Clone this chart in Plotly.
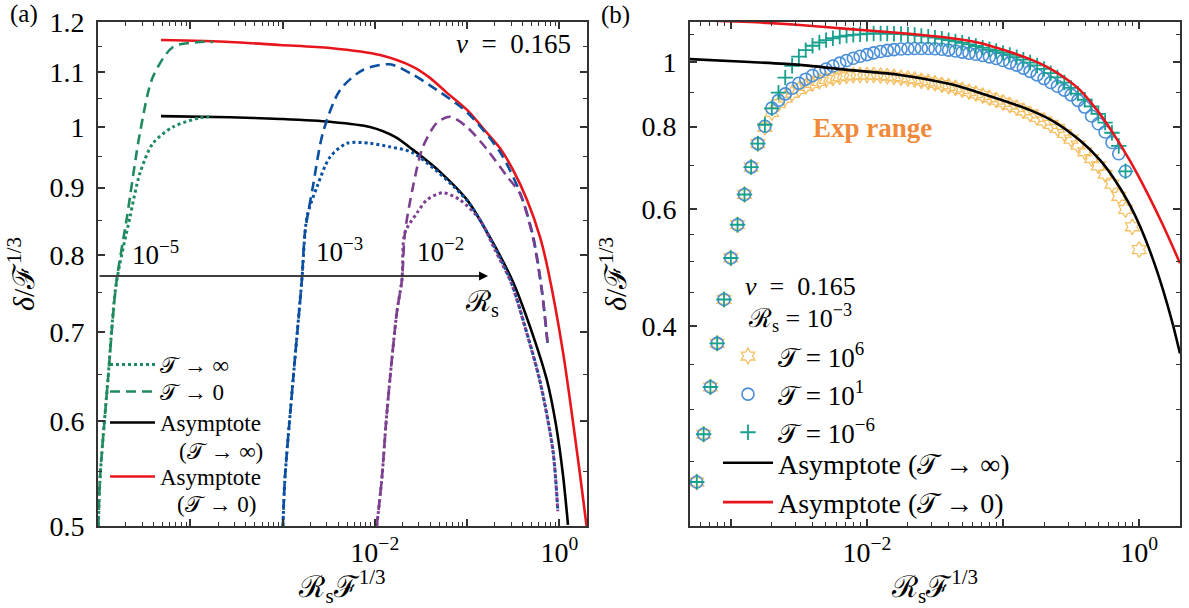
import math
import plotly.graph_objects as go

FONT = "Liberation Serif, DejaVu Serif, serif"
T = "\U0001D4AF"   # script T
RS = "\u211B"      # script R
FS = "\u2131"      # script F
NB = "\u00a0"

# ---------------- Panel (a) data ----------------
green_dot_x = [1.01e-5, 1.05e-5, 1.28e-5, 1.57e-5, 2.22e-5, 2.85e-5, 3.94e-5, 6.50e-5, 1.27e-4, 1.76e-4]
green_dot_y = [0.500, 0.542, 0.644, 0.760, 0.855, 0.923, 0.972, 1.000, 1.016, 1.018]
green_dash_x = [1.01e-5, 1.05e-5, 1.28e-5, 1.57e-5, 2.06e-5, 2.85e-5, 3.94e-5, 6.50e-5, 1.27e-4, 1.76e-4]
green_dash_y = [0.500, 0.542, 0.644, 0.760, 0.855, 0.990, 1.091, 1.149, 1.159, 1.159]

blue_dot_x = [1.01e-3, 1.06e-3, 1.30e-3, 1.62e-3, 1.84e-3, 2.36e-3, 3.27e-3, 4.99e-3, 8.85e-3,
              1.46e-2, 2.59e-2, 0.100, 0.178, 0.300, 0.425, 0.615, 0.851, 0.963]
blue_dot_y = [0.500, 0.542, 0.644, 0.767, 0.855, 0.901, 0.949, 0.972, 0.972,
              0.966, 0.956, 0.880, 0.824, 0.764, 0.707, 0.644, 0.571, 0.514]
blue_dash_x = [1.01e-3, 1.06e-3, 1.30e-3, 1.62e-3, 1.75e-3, 2.13e-3, 2.74e-3, 4.19e-3, 7.43e-3,
               1.46e-2, 2.59e-2, 3.95e-2, 9.95e-2, 0.226, 0.373, 0.516, 0.646, 0.750]
blue_dash_y = [0.500, 0.542, 0.644, 0.767, 0.832, 0.901, 0.990, 1.066, 1.104,
               1.115, 1.095, 1.075, 1.026, 0.958, 0.893, 0.829, 0.754, 0.685]

purple_dot_x = [1.05e-2, 1.19e-2, 1.35e-2, 1.73e-2, 1.97e-2, 2.12e-2, 2.86e-2, 3.67e-2, 5.47e-2,
                8.36e-2, 0.138, 0.200, 0.300, 0.425, 0.615, 0.851, 0.963]
purple_dot_y = [0.500, 0.542, 0.608, 0.724, 0.767, 0.832, 0.861, 0.881, 0.892,
                0.881, 0.851, 0.808, 0.763, 0.706, 0.643, 0.570, 0.513]
purple_dash_x = [1.05e-2, 1.19e-2, 1.35e-2, 1.73e-2, 1.97e-2, 2.12e-2, 2.59e-2, 3.32e-2, 4.71e-2,
                 6.51e-2, 9.95e-2, 0.164, 0.270, 0.373, 0.516, 0.646, 0.750]
purple_dash_y = [0.500, 0.542, 0.608, 0.724, 0.767, 0.832, 0.901, 0.966, 1.007,
                 1.018, 1.000, 0.962, 0.918, 0.891, 0.826, 0.752, 0.683]

black_a_x = [4.82e-5, 2.70e-4, 9.40e-4, 3.27e-3, 8.87e-3, 1.66e-2, 2.60e-2, 5.09e-2, 0.100,
             0.178, 0.315, 0.481, 0.734, 0.920, 1.097, 1.242]
black_a_y = [1.019, 1.017, 1.014, 1.009, 1.000, 0.983, 0.961, 0.925, 0.881,
             0.825, 0.764, 0.707, 0.644, 0.596, 0.546, 0.501]
red_a_x = [4.82e-5, 2.70e-4, 9.40e-4, 3.27e-3, 1.14e-2, 2.60e-2, 3.96e-2, 6.06e-2, 0.100,
           0.164, 0.227, 0.315, 0.447, 0.618, 0.754, 1.097, 1.675, 1.995]
red_a_y = [1.163, 1.159, 1.153, 1.147, 1.133, 1.110, 1.089, 1.061, 1.030,
           0.990, 0.964, 0.928, 0.881, 0.826, 0.780, 0.676, 0.547, 0.497]

# ---------------- Panel (b) data ----------------
x_b = [5.62e-4, 6.31e-4, 7.08e-4, 7.94e-4, 8.91e-4, 1.00e-3, 1.12e-3, 1.26e-3, 1.41e-3, 1.58e-3,
       1.78e-3, 2.00e-3, 2.24e-3, 2.51e-3, 2.82e-3, 3.16e-3, 3.55e-3, 3.98e-3, 4.47e-3, 5.01e-3,
       5.62e-3, 6.31e-3, 7.08e-3, 7.94e-3, 8.91e-3, 1.00e-2, 1.12e-2, 1.26e-2, 1.41e-2, 1.58e-2,
       1.78e-2, 2.00e-2, 2.24e-2, 2.51e-2, 2.82e-2, 3.16e-2, 3.55e-2, 3.98e-2, 4.47e-2, 5.01e-2,
       5.62e-2, 6.31e-2, 7.08e-2, 7.94e-2, 8.91e-2, 0.100, 0.112, 0.126, 0.141, 0.158,
       0.178, 0.200, 0.224, 0.251, 0.282, 0.316, 0.355, 0.398, 0.447, 0.501,
       0.562, 0.631, 0.708, 0.794, 0.891, 1.000]

y_star = [0.233, 0.275, 0.324, 0.377, 0.439, 0.507, 0.569, 0.632, 0.695, 0.754,
          0.798, 0.840, 0.866, 0.883, 0.898, 0.910, 0.920, 0.929, 0.936, 0.942,
          0.947, 0.951, 0.954, 0.956, 0.957, 0.957, 0.957, 0.955, 0.953, 0.951,
          0.948, 0.945, 0.942, 0.938, 0.934, 0.930, 0.925, 0.920, 0.915, 0.909,
          0.903, 0.897, 0.891, 0.884, 0.877, 0.870, 0.862, 0.854, 0.845, 0.836,
          0.826, 0.816, 0.806, 0.795, 0.781, 0.766, 0.750, 0.733, 0.716, 0.698,
          0.678, 0.655, 0.628, 0.600, 0.565, 0.522]
y_circle = [0.233, 0.275, 0.324, 0.377, 0.439, 0.507, 0.569, 0.632, 0.695, 0.754,
            0.801, 0.853, 0.876, 0.896, 0.914, 0.930, 0.943, 0.955, 0.966, 0.977,
            0.987, 0.997, 1.006, 1.014, 1.021, 1.027, 1.033, 1.038, 1.042, 1.045,
            1.047, 1.048, 1.049, 1.049, 1.049, 1.048, 1.046, 1.043, 1.040, 1.036,
            1.032, 1.028, 1.024, 1.019, 1.013, 1.006, 0.998, 0.990, 0.980, 0.969,
            0.957, 0.945, 0.932, 0.920, 0.908, 0.893, 0.876, 0.856, 0.830, 0.808,
            0.785, 0.757, 0.728, 0.685]
y_plus = [0.233, 0.275, 0.324, 0.377, 0.439, 0.507, 0.569, 0.632, 0.695, 0.754,
          0.805, 0.852, 0.900, 0.948, 0.988, 1.020, 1.043, 1.059, 1.071, 1.080,
          1.087, 1.093, 1.097, 1.100, 1.102, 1.104, 1.105, 1.105, 1.105, 1.104,
          1.103, 1.101, 1.099, 1.096, 1.093, 1.089, 1.085, 1.080, 1.075, 1.070,
          1.064, 1.058, 1.052, 1.046, 1.040, 1.033, 1.026, 1.018, 1.009, 0.999,
          0.989, 0.977, 0.963, 0.949, 0.932, 0.915, 0.897, 0.878, 0.858, 0.836,
          0.811, 0.783, 0.748, 0.685]

black_b_x = [5.01e-4, 1.38e-3, 3.22e-3, 7.51e-3, 1.75e-2, 4.07e-2, 6.77e-2, 0.158, 0.241, 0.368,
             0.516, 0.643, 0.830, 1.014, 1.244, 1.497, 1.743, 1.995]
black_b_y = [1.011, 1.001, 0.991, 0.973, 0.957, 0.927, 0.899, 0.847, 0.812, 0.762,
             0.712, 0.671, 0.616, 0.566, 0.509, 0.454, 0.407, 0.364]
red_b_x = [5.01e-4, 1.38e-3, 3.22e-3, 7.51e-3, 1.75e-2, 4.07e-2, 6.77e-2, 0.1125, 0.158, 0.210,
           0.285, 0.368, 0.490, 0.643, 0.857, 1.143, 1.497, 1.995]
red_b_y = [1.158, 1.150, 1.138, 1.122, 1.107, 1.088, 1.069, 1.036, 1.011, 0.984,
           0.947, 0.908, 0.847, 0.782, 0.710, 0.636, 0.568, 0.498]

exp_range_end = 0.07

# ---------------- styles ----------------
GREEN = "#1f8a5f"
BLUE = "#0b4fa0"
PURPLE = "#7d3f8f"
RED = "#e8161c"
STAR_C = "#f5c064"
CIRC_C = "#4a8fd8"
PLUS_C = "#16a08e"
DASH = "10px,6px"

fig = go.Figure()

def line(x, y, color, dash, width, xa, ya, name=None, legend=None, show=False):
    fig.add_trace(go.Scatter(
        x=x, y=y, mode="lines", line=dict(color=color, dash=dash, width=width, shape="spline", smoothing=0.8),
        xaxis=xa, yaxis=ya, name=name or "", showlegend=show, legend=legend, hoverinfo="skip"))

# Panel (a)
line(black_a_x, black_a_y, "black", "solid", 2.6, "x", "y", "Asymptote", "legend3", True)
line(red_a_x, red_a_y, RED, "solid", 2.6, "x", "y", "Asymptote", "legend4", True)
line(green_dot_x, green_dot_y, GREEN, "dot", 3, "x", "y", T + " \u2192 \u221e", "legend", True)
line(green_dash_x, green_dash_y, GREEN, DASH, 2.6, "x", "y", T + " \u2192 0", "legend6", True)
line(blue_dot_x, blue_dot_y, BLUE, "dot", 3, "x", "y")
line(blue_dash_x, blue_dash_y, BLUE, DASH, 2.6, "x", "y")
line(purple_dot_x, purple_dot_y, PURPLE, "dot", 3, "x", "y")
line(purple_dash_x, purple_dash_y, PURPLE, DASH, 2.6, "x", "y")

# Panel (b)
fig.add_trace(go.Scatter(x=x_b[:len(y_star)], y=y_star, mode="markers", xaxis="x2", yaxis="y2",
                         marker=dict(symbol="hexagram-open", size=12, color=STAR_C, line=dict(width=1.3, color=STAR_C)),
                         name=T + " = 10<sup>6</sup>", legend="legend2", hoverinfo="skip"))
fig.add_trace(go.Scatter(x=x_b[:len(y_circle)], y=y_circle, mode="markers", xaxis="x2", yaxis="y2",
                         marker=dict(symbol="circle-open", size=12, color=CIRC_C, line=dict(width=1.6, color=CIRC_C)),
                         name=T + " = 10<sup>1</sup>", legend="legend2", hoverinfo="skip"))
fig.add_trace(go.Scatter(x=x_b[:len(y_plus)], y=y_plus, mode="markers", xaxis="x2", yaxis="y2",
                         marker=dict(symbol="cross-thin-open", size=11, color=PLUS_C, line=dict(width=1.8, color=PLUS_C)),
                         name=T + " = 10<sup>\u22126</sup>", legend="legend2", hoverinfo="skip"))
line(black_b_x, black_b_y, "black", "solid", 2.6, "x2", "y2", "Asymptote (" + T + " \u2192 \u221e)", "legend5", True)
line(red_b_x, red_b_y, RED, "solid", 2.6, "x2", "y2", "Asymptote (" + T + " \u2192 0)", "legend5", True)

# ---------------- axes ----------------
W, H = 1189, 608
ax_common = dict(showline=True, linewidth=2, linecolor="#333", mirror="ticks", ticks="inside",
                 ticklen=7, tickwidth=1.5, tickcolor="#333", showgrid=False, zeroline=False,
                 automargin=False, tickfont=dict(family=FONT, size=28, color="black"))
minor_x = dict(tickmode="array", ticks="inside", ticklen=4, tickwidth=1.3, tickcolor="#333", showgrid=False,
               tickvals=[m * 10.0 ** e for e in range(-5, 1) for m in range(2, 10)])
title_font = dict(family=FONT, size=30, color="black")
xtitle = RS + "<sub>s</sub>" + FS + "<sup>1/3</sup>"
ytitle = "<i>\u03b4</i>/" + FS + "<sup>1/3</sup>"

def leg(x_px, top_px, size, itemwidth):
    return dict(x=x_px / W, y=1 - top_px / H, xanchor="left", yanchor="top", bgcolor="rgba(0,0,0,0)",
                font=dict(family=FONT, size=size, color="black"), itemwidth=itemwidth, tracegroupgap=0)

fig.update_layout(
    width=W, height=H, margin=dict(l=0, r=0, t=0, b=0, autoexpand=False),
    paper_bgcolor="white", plot_bgcolor="white",
    font=dict(family=FONT, color="black"),
    xaxis=dict(ax_common, type="log", range=[-5, 0.3], domain=[98 / W, 587 / W], anchor="y",
               tickmode="array", tickvals=[1e-5, 1e-4, 1e-3, 1e-2, 1e-1, 1],
               ticktext=["", "", "", "10<sup>\u22122</sup>", "", "10<sup>0</sup>"],
               minor=minor_x, title=dict(text=xtitle, font=title_font, standoff=10)),
    yaxis=dict(ax_common, type="log", range=[math.log10(0.5), math.log10(1.2)], domain=[1 - 526 / H, 1 - 22 / H],
               anchor="x", tickmode="array", tickvals=[0.5, 0.6, 0.7, 0.8, 0.9, 1.0, 1.1, 1.2],
               ticktext=["0.5", "0.6", "0.7", "0.8", "0.9", "1", "1.1", "1.2"], ticklabelstandoff=6,
               minor=dict(tickmode="array", tickvals=[0.55, 0.65, 0.75, 0.85, 0.95, 1.05, 1.15],
                          ticks="inside", ticklen=4, tickwidth=1.3, tickcolor="#333", showgrid=False),
               title=dict(text=ytitle, font=title_font, standoff=6)),
    xaxis2=dict(ax_common, type="log", range=[-3.3, 0.3], domain=[690 / W, 1180 / W], anchor="y2",
                tickmode="array", tickvals=[1e-3, 1e-2, 1e-1, 1],
                ticktext=["", "10<sup>\u22122</sup>", "", "10<sup>0</sup>"],
                minor=minor_x, title=dict(text=xtitle, font=title_font, standoff=10)),
    yaxis2=dict(ax_common, type="log", range=[math.log10(0.2), math.log10(1.15)], domain=[1 - 526 / H, 1 - 22 / H],
                anchor="x2", tickmode="array", tickvals=[0.4, 0.6, 0.8, 1.0], ticktext=["0.4", "0.6", "0.8", "1"],
                ticklabelstandoff=6,
                minor=dict(tickmode="array", tickvals=[0.25, 0.3, 0.35, 0.45, 0.5, 0.55, 0.7, 0.9, 1.1],
                           ticks="inside", ticklen=4, tickwidth=1.3, tickcolor="#333", showgrid=False),
                title=dict(text=ytitle, font=title_font, standoff=6)),
    legend=leg(105, 343, 23, 45),
    legend6=leg(105, 370, 23, 45),
    legend3=leg(105, 401, 23, 45),
    legend4=leg(105, 455, 23, 45),
    legend2=leg(718, 332, 27, 50),
    legend5=leg(718, 438, 28, 50),
    shapes=[dict(type="rect", xref="x2", yref="y2 domain", x0=-3.3, x1=math.log10(exp_range_end), y0=0, y1=1,
                 fillcolor="#fdebc8", line=dict(width=0), layer="below")],
)

ann = []
def text(t, x, y, size, xref="paper", yref="paper", color="black", xanchor="center", bold=False):
    ann.append(dict(text=("<b>" + t + "</b>") if bold else t, x=x, y=y, xref=xref, yref=yref, showarrow=False,
                    xanchor=xanchor, yanchor="middle", font=dict(family=FONT, size=size, color=color)))

text("(a)", 24 / W, 1 - 14 / H, 25)
text("(b)", 615 / W, 1 - 15 / H, 25)
text("<i>\u03bd</i>" + NB * 2 + "=" + NB * 2 + "0.165", -0.5, math.log10(1.155), 27, "x", "y")
text("10<sup>\u22125</sup>", -4.38, math.log10(0.804), 27, "x", "y")
text("10<sup>\u22123</sup>", -2.38, math.log10(0.808), 27, "x", "y")
text("10<sup>\u22122</sup>", -1.29, math.log10(0.808), 27, "x", "y")
text(RS + "<sub>s</sub>", -0.84, math.log10(0.737), 29, "x", "y")
text("(" + T + " \u2192 \u221e)", 221 / W, 1 - 451 / H, 23)
text("(" + T + " \u2192 0)", 216 / W, 1 - 504 / H, 23)
text("<i>\u03bd</i>" + NB * 2 + "=" + NB * 2 + "0.165", 800 / W, 1 - 286 / H, 26)
text(RS + "<sub>s</sub>" + NB + "=" + NB + "10<sup>\u22123</sup>", 800 / W, 1 - 318 / H, 26)
text("Exp range", 872 / W, 1 - 128 / H, 27, color="#f08a3a", bold=True)

# arrow for increasing Rs
ann.append(dict(x=math.log10(0.169), y=math.log10(0.772), ax=-5, ay=math.log10(0.772), xref="x", yref="y",
                axref="x", ayref="y", showarrow=True, arrowhead=2, arrowsize=1.2, arrowwidth=1.5,
                arrowcolor="black", text=""))
fig.update_layout(annotations=ann)

fig.write_html("out.html", config={"displayModeBar": False},
               post_script="document.body.style.margin='0px';")
